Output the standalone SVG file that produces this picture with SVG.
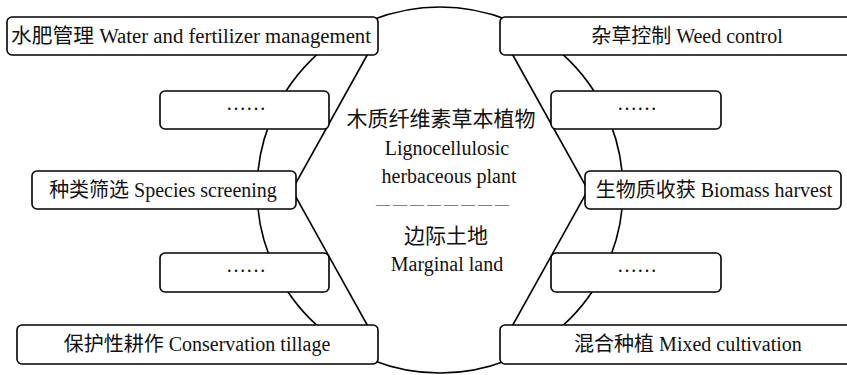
<svg xmlns="http://www.w3.org/2000/svg" width="847" height="375" viewBox="0 0 847 375">
<style>
.box{fill:#fff;stroke:#000;stroke-width:1.6}
.ln{fill:none;stroke:#000;stroke-width:1.6}
text{font-family:"Liberation Serif","Noto Sans CJK SC",serif;font-size:20px;fill:#111;text-anchor:middle}
</style>
<rect width="847" height="375" fill="#fff"/>
<g id="connectors">
<circle class="ln" cx="440" cy="190" r="183"/>
<polyline class="ln" points="370,50 292,190 370,330"/>
<polyline class="ln" points="510,50 588,190 510,330"/>
</g>
<g id="center">
<text x="441" y="126" style="font-size:21px">木质纤维素草本植物</text>
<text x="447" y="155">Lignocellulosic</text>
<text x="449" y="183">herbaceous plant</text>
<text x="444" y="209" style="font-size:14px;letter-spacing:3px">————————</text>
<text x="446" y="243" style="font-size:21px">边际土地</text>
<text x="447" y="271">Marginal land</text>
</g>
<g id="n-water">
<rect class="box" x="7" y="17" width="371" height="38" rx="5"/>
<text x="191" y="43" textLength="360" lengthAdjust="spacingAndGlyphs">水肥管理 Water and fertilizer management</text>
</g>
<g id="n-weed">
<rect class="box" x="500" y="17" width="373" height="38" rx="5"/>
<text x="687" y="43">杂草控制 Weed control</text>
</g>
<g id="n-dots1">
<rect class="box" x="160" y="91" width="169" height="38" rx="5"/>
<text x="246" y="110">……</text>
</g>
<g id="n-dots2">
<rect class="box" x="551" y="91" width="170" height="38" rx="5"/>
<text x="637" y="110">……</text>
</g>
<g id="n-species">
<rect class="box" x="32" y="171" width="264" height="38" rx="5"/>
<text x="163" y="197">种类筛选 Species screening</text>
</g>
<g id="n-biomass">
<rect class="box" x="585" y="171" width="256" height="38" rx="5"/>
<text x="714" y="197">生物质收获 Biomass harvest</text>
</g>
<g id="n-dots3">
<rect class="box" x="160" y="253" width="169" height="39" rx="5"/>
<text x="246" y="272">……</text>
</g>
<g id="n-dots4">
<rect class="box" x="551" y="253" width="170" height="39" rx="5"/>
<text x="637" y="272">……</text>
</g>
<g id="n-tillage">
<rect class="box" x="17" y="325" width="361" height="39" rx="5"/>
<text x="197" y="351">保护性耕作 Conservation tillage</text>
</g>
<g id="n-mixed">
<rect class="box" x="500" y="325" width="373" height="39" rx="5"/>
<text x="688" y="351">混合种植 Mixed cultivation</text>
</g>
</svg>
